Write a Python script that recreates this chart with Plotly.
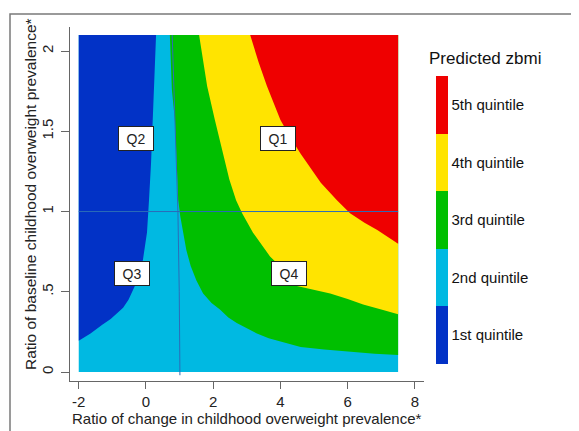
import plotly.graph_objects as go

# ---- data ----
# boundary between 1st and 2nd quintile (dark blue / light blue)
b1_x = [0.30, 0.25, 0.21, 0.15, 0.09, 0.03, -0.09, -0.18, -0.30, -0.52, -0.68, -0.85, -1.05, -1.30, -1.65, -2.0]
b1_y = [2.1, 1.8, 1.57, 1.3, 1.07, 0.87, 0.70, 0.62, 0.55, 0.45, 0.40, 0.37, 0.33, 0.295, 0.24, 0.195]
# boundary between 2nd and 3rd quintile (light blue / green)
b2_x = [0.71, 0.77, 0.86, 0.96, 1.02, 1.10, 1.20, 1.33, 1.50, 1.70, 1.95, 2.2, 2.45, 2.7, 3.0, 3.3, 3.65, 4.0, 4.6, 5.3, 6.1, 6.8, 7.5]
b2_y = [2.1, 1.76, 1.57, 1.07, 0.97, 0.87, 0.76, 0.66, 0.57, 0.49, 0.43, 0.39, 0.34, 0.305, 0.27, 0.24, 0.21, 0.19, 0.156, 0.14, 0.125, 0.114, 0.106]
# boundary between 3rd and 4th quintile (green / yellow)
b3_x = [1.58, 1.82, 2.05, 2.29, 2.48, 2.68, 2.86, 3.18, 3.45, 3.69, 3.89, 4.2, 4.49, 5.0, 5.48, 6.0, 6.46, 7.0, 7.5]
b3_y = [2.1, 1.78, 1.57, 1.36, 1.20, 1.07, 0.99, 0.87, 0.79, 0.72, 0.68, 0.60, 0.536, 0.51, 0.49, 0.455, 0.42, 0.39, 0.36]
# boundary between 4th and 5th quintile (yellow / red)
b4_x = [3.1, 3.35, 3.6, 4.0, 4.3, 4.6, 5.2, 5.68, 6.07, 6.5, 6.88, 7.2, 7.5]
b4_y = [2.1, 1.93, 1.78, 1.57, 1.46, 1.36, 1.18, 1.07, 0.99, 0.93, 0.885, 0.84, 0.80]
# thin reference curve near x = 1
vline_x = [0.78, 0.83, 0.87, 0.95, 0.99, 1.01]
vline_y = [2.1, 1.76, 1.57, 1.0, 0.5, -0.02]

x_min, x_max = -2.0, 7.5
y_min, y_max = 0.0, 2.1

quintile_labels = ["1st quintile", "2nd quintile", "3rd quintile", "4th quintile", "5th quintile"]
quintile_colors = ["#0232c6", "#00b9e2", "#00bf00", "#ffe400", "#ef0000"]

q_labels = ["Q1", "Q2", "Q3", "Q4"]
q_x = [3.94, -0.30, -0.42, 4.26]
q_y = [1.458, 1.455, 0.614, 0.614]

x_ticks = [-2, 0, 2, 4, 6, 8]
x_ticktext = ["-2", "0", "2", "4", "6", "8"]
y_ticks = [0, 0.5, 1, 1.5, 2]
y_ticktext = ["0", ".5", "1", "1.5", "2"]

x_title = "Ratio of change in childhood overweight prevalence*"
y_title = "Ratio of baseline childhood overweight prevalence*"
legend_title = "Predicted zbmi"

FONT = "Liberation Sans, Arial, sans-serif"

# page offset of the figure (default body margin)
OFF = 8
# plot-area geometry in page pixels
L, R, T, B = 70, 424, 27, 381
W, H = R - L, B - T


def px_x(p):
    return (p - L) / W


def px_y(p):
    return (B - p) / H


fig = go.Figure()

# background region: 2nd quintile
fig.add_trace(go.Scatter(
    x=[x_min, x_max, x_max, x_min], y=[y_min, y_min, y_max, y_max],
    fill="toself", fillcolor=quintile_colors[1], mode="lines",
    line=dict(width=0), hoverinfo="skip", showlegend=False))
# 1st quintile (left of b1)
fig.add_trace(go.Scatter(
    x=b1_x + [x_min], y=b1_y + [y_max],
    fill="toself", fillcolor=quintile_colors[0], mode="lines",
    line=dict(width=0), hoverinfo="skip", showlegend=False))
# 3rd, 4th, 5th quintile (right of each boundary)
for bx, by, col in [(b2_x, b2_y, quintile_colors[2]),
                    (b3_x, b3_y, quintile_colors[3]),
                    (b4_x, b4_y, quintile_colors[4])]:
    fig.add_trace(go.Scatter(
        x=bx + [x_max], y=by + [y_max],
        fill="toself", fillcolor=col, mode="lines",
        line=dict(width=0), hoverinfo="skip", showlegend=False))

# reference lines
fig.add_trace(go.Scatter(x=[x_min, x_max], y=[1, 1], mode="lines",
                         line=dict(color="#2b6cb8", width=1),
                         hoverinfo="skip", showlegend=False))
fig.add_trace(go.Scatter(x=vline_x, y=vline_y, mode="lines",
                         line=dict(color="#2b6cb8", width=1),
                         hoverinfo="skip", showlegend=False))

# discrete colorbar legend
n = len(quintile_colors)
cscale = []
for i, c in enumerate(quintile_colors):
    cscale.append([i / n, c])
    cscale.append([(i + 1) / n, c])
fig.add_trace(go.Scatter(
    x=[None], y=[None], mode="markers", hoverinfo="skip", showlegend=False,
    marker=dict(color=[0], cmin=0, cmax=n, colorscale=cscale, showscale=True,
                colorbar=dict(
                    x=px_x(436), xanchor="left", xpad=0,
                    y=px_y(220), yanchor="middle", ypad=0,
                    len=288 / H, lenmode="fraction",
                    thickness=12, outlinewidth=0, ticks="",
                    tickvals=[i + 0.5 for i in range(n)],
                    ticktext=quintile_labels,
                    tickfont=dict(family=FONT, size=15, color="#111111"),
                ))))

annotations = []
for t, xx, yy in zip(q_labels, q_x, q_y):
    annotations.append(dict(
        x=xx, y=yy, xref="x", yref="y", text=t, showarrow=False,
        font=dict(family=FONT, size=14, color="#222222"),
        bgcolor="white", bordercolor="#222222", borderwidth=1, borderpad=1,
        width=32, height=21))
annotations.append(dict(
    x=px_x(427), y=px_y(58), xref="paper", yref="paper",
    xanchor="left", yanchor="middle", text=legend_title, showarrow=False,
    font=dict(family=FONT, size=17, color="#111111")))
annotations.append(dict(
    x=0.5, y=px_y(418), xref="paper", yref="paper",
    xanchor="center", yanchor="middle", text=x_title, showarrow=False,
    font=dict(family=FONT, size=15, color="#222222")))
annotations.append(dict(
    x=px_x(30), y=px_y(194), xref="paper", yref="paper",
    xanchor="center", yanchor="middle", text=y_title, showarrow=False,
    textangle=-90,
    font=dict(family=FONT, size=15.5, color="#222222")))

fig.update_layout(
    width=579, height=431,
    margin=dict(l=L - OFF, r=579 - (R - OFF), t=T - OFF, b=431 - (B - OFF), pad=0),
    paper_bgcolor="white", plot_bgcolor="white",
    annotations=annotations,
    shapes=[dict(type="rect", xref="paper", yref="paper",
                 x0=px_x(10), x1=1.8, y0=-0.4, y1=px_y(14),
                 line=dict(color="#7a7a7a", width=1.5), layer="below")],
    xaxis=dict(range=[-2.26, 8.27], showgrid=False, zeroline=False,
               automargin=False,
               showline=True, linecolor="#666666", linewidth=1,
               ticks="outside", ticklen=7, tickcolor="#666666",
               tickvals=x_ticks, ticktext=x_ticktext,
               tickfont=dict(family=FONT, size=15, color="#222222")),
    yaxis=dict(range=[-0.056, 2.15], showgrid=False, zeroline=False,
               automargin=False,
               showline=True, linecolor="#666666", linewidth=1,
               ticks="outside", ticklen=8, tickcolor="#666666",
               tickvals=y_ticks, ticktext=y_ticktext, tickangle=-90,
               ticklabelstandoff=2,
               tickfont=dict(family=FONT, size=15, color="#222222")),
)

fig.write_html("out.html")
